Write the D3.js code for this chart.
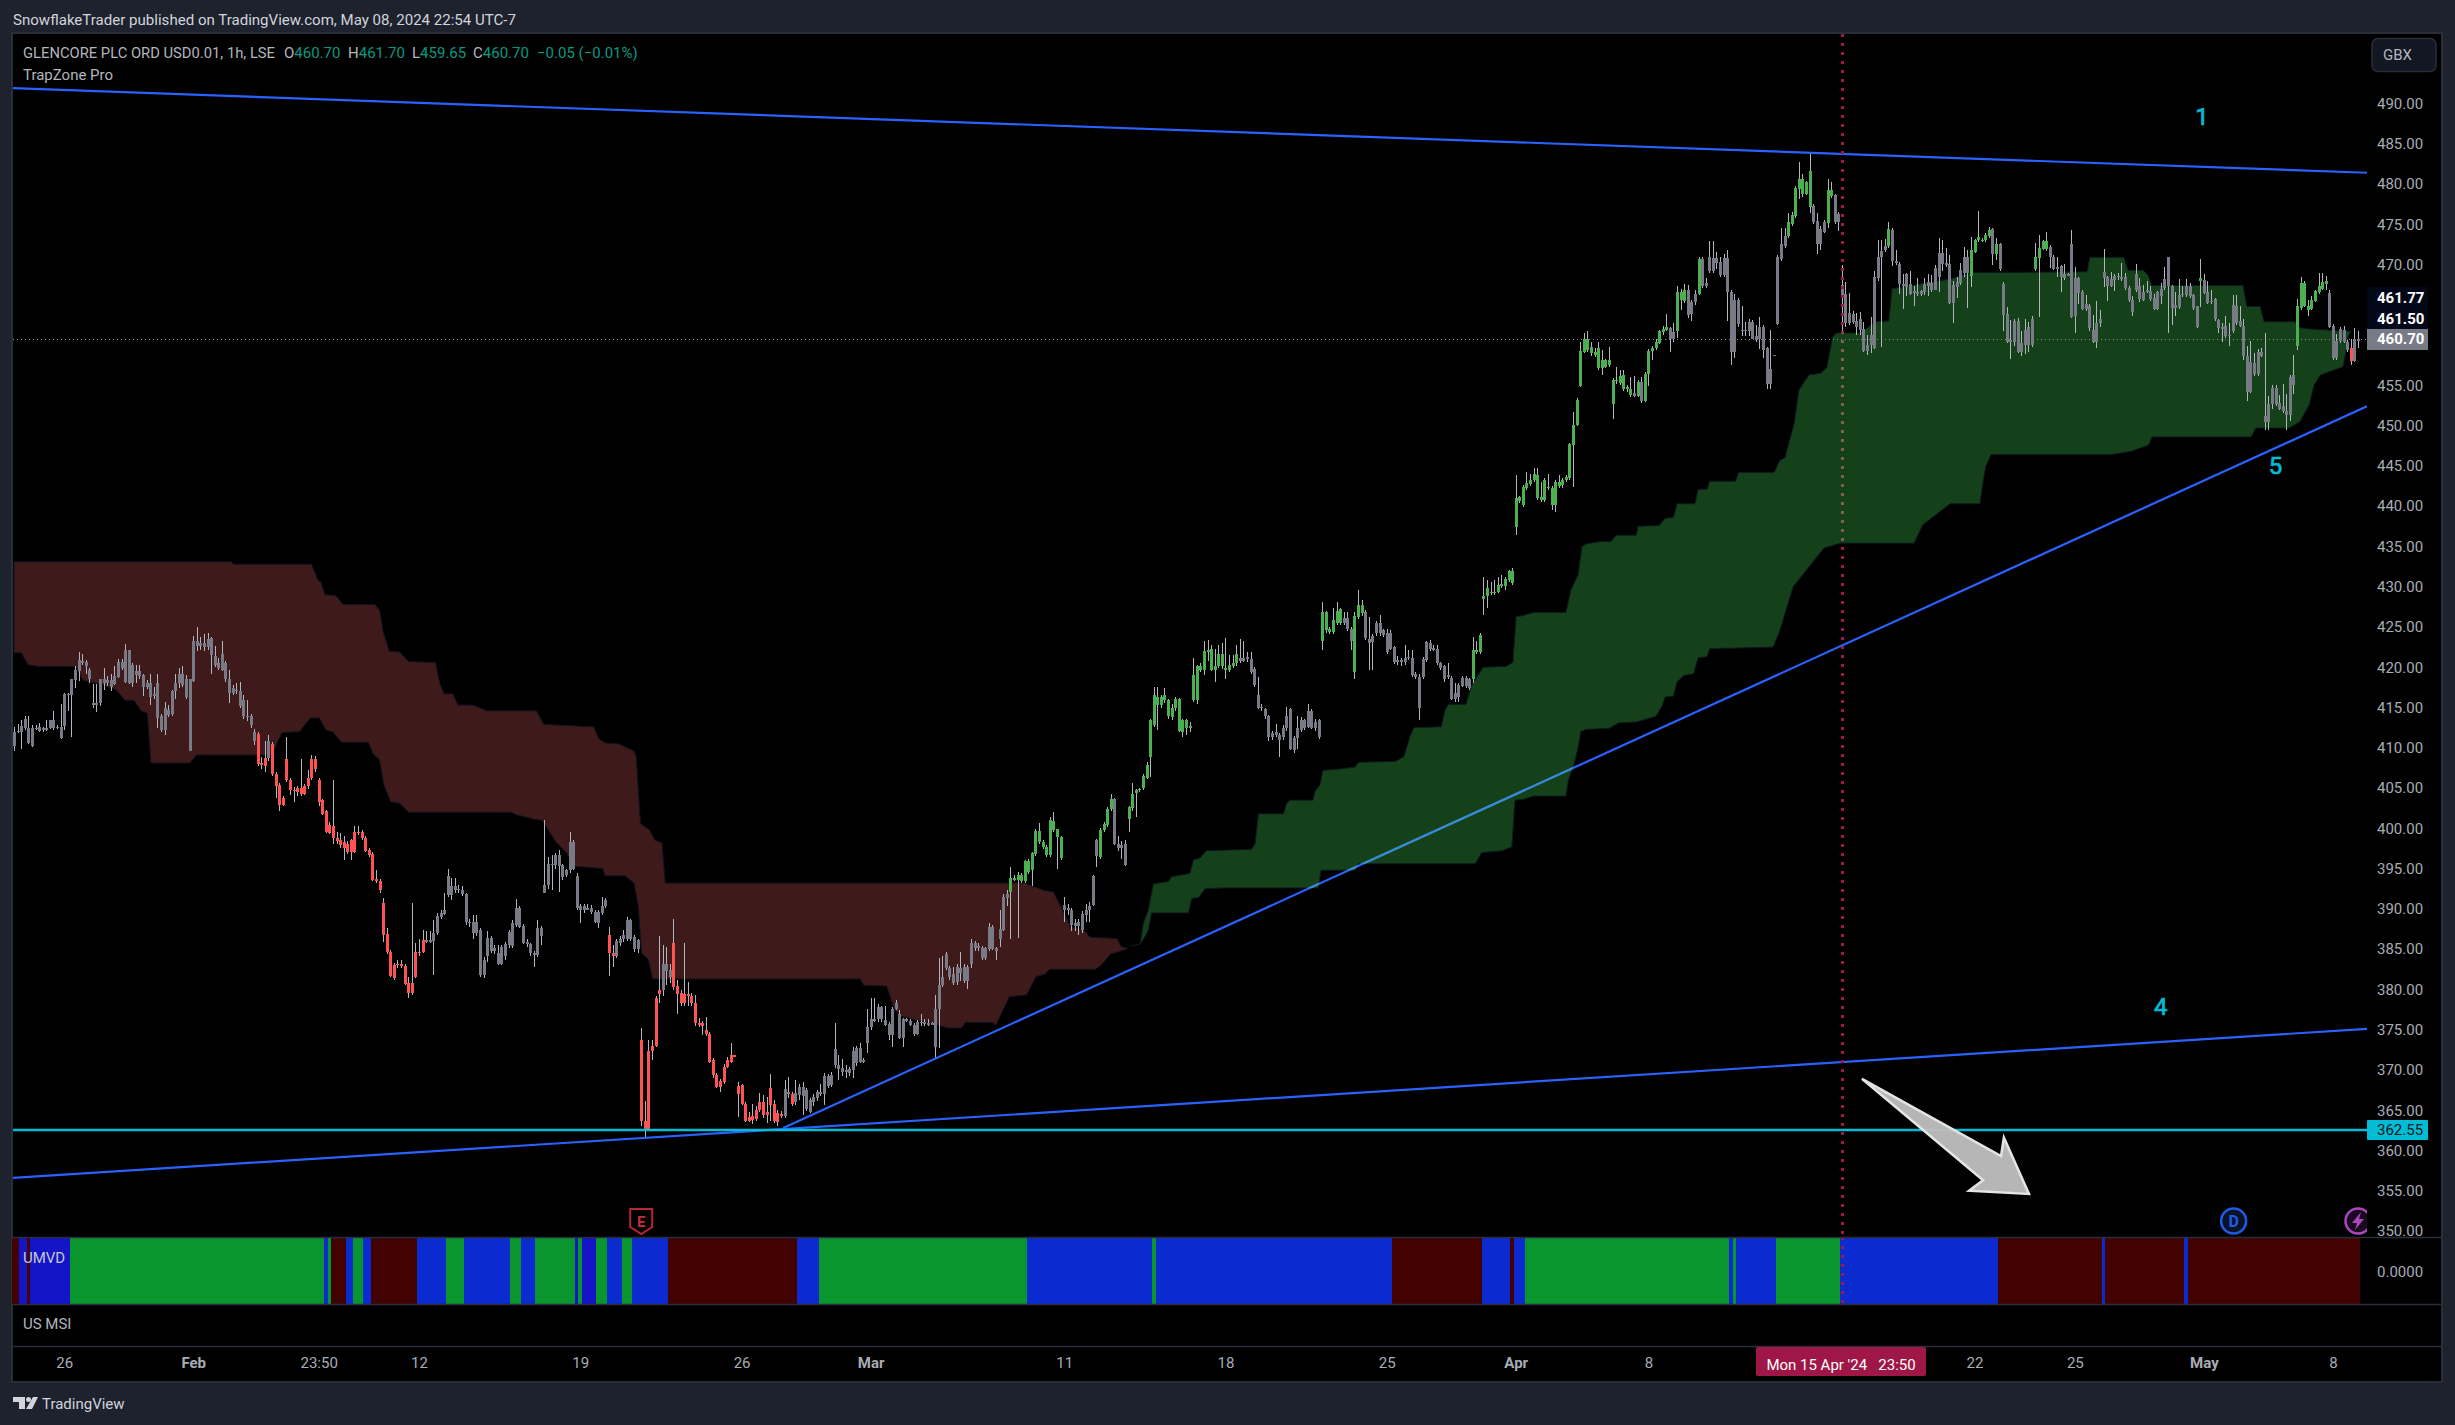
<!DOCTYPE html>
<html><head><meta charset="utf-8">
<script src="https://cdn.jsdelivr.net/npm/d3@7"></script>
<style>html,body{margin:0;padding:0;background:#1e222d;overflow:hidden}svg{display:block}text{font-family:Roboto,sans-serif}</style>
</head><body><div id="chart"></div>
<script>
// Hourly candles, each row [open, high, low, close]
const barsA = [
[410.2,412.6,409.6,412.0],[411.9,413.0,411.8,412.1],[411.9,413.5,409.8,412.7],[412.4,413.9,412.2,413.6],[410.6,413.9,410.5,412.4],[410.2,412.8,410.1,412.5],[412.4,412.8,412.2,412.5],[412.1,413.1,412.0,412.6],[412.2,412.6,412.0,412.4],[412.2,413.4,412.1,412.5],
[412.4,413.5,412.3,413.4],[412.4,414.6,412.2,413.4],[412.5,412.8,412.3,412.6],[411.2,415.4,411.1,412.6],[412.7,416.8,412.2,416.7],[416.6,416.8,414.6,416.7],[416.6,418.5,411.4,418.5],[418.4,420.1,417.4,419.7],[419.5,421.9,418.3,420.9],[420.5,421.6,420.3,420.8],
[420.1,420.9,419.2,420.6],[418.5,419.9,418.0,419.7],[415.3,417.9,415.0,415.5],[415.3,417.9,414.4,415.6],[415.5,418.6,415.2,418.6],[418.0,419.9,417.2,418.5],[418.1,418.9,417.7,418.4],[417.6,419.2,417.0,418.4],[417.9,420.1,417.8,418.9],[418.8,421.0,418.7,420.6],
[419.9,421.0,419.6,420.6],[418.2,422.9,418.0,422.1],[418.0,422.1,417.9,422.1],[418.0,420.5,417.5,420.3],[419.0,420.3,418.0,419.5],[418.9,420.3,418.5,419.5],[417.6,419.2,416.4,419.0],[417.6,418.4,417.3,418.0],[416.3,419.1,415.3,418.0],[416.4,417.5,416.0,416.7],
[413.7,419.2,412.4,418.1],[412.2,414.2,412.0,413.9],[412.2,415.7,411.6,414.9],[414.1,415.3,413.8,414.7],[414.2,417.2,414.0,417.0],[417.1,419.2,416.1,418.0],[418.0,419.9,417.4,419.2],[417.8,420.1,417.5,419.2],[416.3,419.0,416.0,418.5],[409.6,418.6,409.6,418.5],
[418.3,423.9,418.2,423.3],[422.6,425.0,422.0,423.3],[422.6,423.8,422.2,423.0],[422.5,424.1,422.0,423.0],[422.5,424.2,422.2,423.5],[421.5,423.8,419.1,423.6],[420.3,422.6,420.0,421.4],[419.9,421.1,419.6,420.5],[419.7,423.2,419.5,421.7],[418.5,420.8,418.2,420.5],
[416.8,419.6,415.6,418.5],[416.8,417.8,416.5,417.4],[417.0,418.0,416.7,417.2],[415.2,418.2,415.0,417.1],[413.9,416.6,413.6,415.9],[413.8,415.9,413.3,414.0],[412.8,414.2,412.4,413.9],[410.8,412.3,410.3,412.0],[411.7,412.0,407.7,408.0],[408.1,408.8,407.4,408.0],
[408.7,410.8,407.0,407.7],[408.7,411.6,408.4,410.8],[410.5,410.7,406.5,406.7],[406.8,407.0,403.8,405.3],[405.4,405.6,402.2,402.9],[403.8,404.0,402.8,402.9],[408.6,411.4,405.8,406.0],[406.0,406.2,404.1,404.8],[404.8,405.1,403.3,404.7],[405.0,405.2,404.0,404.5],
[405.0,408.6,404.0,404.3],[405.3,405.5,404.1,404.3],[406.2,407.2,404.9,405.2],[408.6,409.1,406.0,406.2],[408.6,409.0,407.0,407.4],[406.0,406.2,402.8,403.3],[403.5,403.7,401.6,401.8],[402.1,402.3,399.4,399.5],[400.4,400.8,399.3,399.4],[400.3,406.0,398.1,398.8],
[398.8,399.6,398.0,398.4],[398.5,399.4,397.6,397.9],[398.3,399.0,396.1,397.5],[398.0,398.4,396.8,397.1],[398.5,398.7,396.1,397.0],[399.6,400.3,396.9,397.0],[399.6,400.3,399.2,399.5],[399.5,399.8,398.6,398.8],[398.8,399.0,397.0,397.2],[397.3,397.6,396.5,396.7]];
const barsB = [
[396.8,397.0,393.5,393.6],[393.7,394.8,393.2,393.4],[393.5,393.7,392.0,392.3],[390.7,391.3,385.9,386.8],[386.9,387.6,384.4,384.6],[384.7,384.9,381.5,381.7],[383.0,383.3,381.2,381.4],[383.2,383.7,382.7,383.0],[383.2,383.7,382.6,382.9],[382.9,383.1,380.5,380.7],
[380.8,381.5,378.9,379.5],[380.8,390.7,379.3,379.6],[384.6,385.8,381.4,381.6],[384.7,386.2,384.2,384.5],[386.1,387.4,384.5,384.7],[386.0,387.3,385.7,386.1],[386.0,387.2,385.7,386.1],[386.0,388.6,381.8,387.0],[387.0,389.5,386.8,389.1],[389.0,389.8,388.8,389.5],
[389.4,392.0,389.2,389.9],[391.7,395.0,391.5,394.1],[391.7,393.8,391.1,392.9],[392.3,393.8,392.0,392.9],[392.3,393.0,392.0,392.5],[391.9,392.8,391.6,392.4],[388.4,392.0,388.0,391.9],[388.2,388.8,387.8,388.4],[387.0,389.2,386.3,388.4],[387.0,389.2,386.6,388.4],
[381.8,387.6,381.6,387.4],[381.8,384.0,381.4,383.7],[384.1,387.2,383.4,386.4],[384.8,386.6,384.5,386.4],[384.8,385.5,384.4,385.1],[383.2,385.5,383.0,384.5],[383.2,385.5,383.0,385.3],[384.1,385.9,383.7,385.6],[385.5,387.4,385.2,387.1],[385.4,388.6,385.2,388.2],
[388.0,391.2,387.8,390.1],[387.8,390.3,387.6,390.1],[385.8,388.1,385.6,387.9],[385.6,386.3,385.3,385.9],[384.5,385.8,384.2,385.6],[384.3,384.8,382.8,384.5],[384.3,388.6,384.0,387.6],[386.6,387.9,385.5,387.6],[392.0,401.0,392.0,393.0],[393.0,396.5,392.5,395.6],
[395.5,396.7,392.3,395.6],[395.4,396.9,395.0,396.7],[395.3,397.3,392.1,396.7],[393.9,395.6,393.6,395.4],[394.2,395.0,394.0,394.8],[394.8,399.5,394.5,398.3],[395.0,398.5,394.8,398.3],[390.1,394.4,389.9,394.1],[389.9,390.6,388.3,390.4],[389.9,390.6,389.5,390.4],
[390.0,390.6,389.8,390.1],[389.6,390.5,389.3,390.1],[388.4,389.8,388.2,389.6],[388.3,389.8,387.6,389.6],[389.5,391.5,389.2,390.4],[390.4,391.4,390.1,391.1],[386.8,387.8,381.7,384.5],[384.5,385.5,382.8,384.1],[384.2,386.2,383.9,386.0],[385.7,386.6,385.4,386.3],
[386.2,387.4,385.9,386.8],[386.2,389.0,386.0,388.6],[386.2,388.8,386.0,388.6],[385.0,386.8,384.6,386.5],[385.0,386.3,384.5,386.1],[373.7,375.2,363.0,363.6],[363.7,366.2,361.4,362.7],[372.3,373.7,362.4,362.7],[373.0,373.7,371.2,372.3],[378.9,379.2,372.8,373.0],
[379.9,386.6,378.3,379.4],[379.9,385.5,379.2,383.2],[382.3,385.3,380.5,383.2],[381.6,383.2,380.8,382.4],[385.7,388.8,379.9,380.3],[380.4,381.2,377.0,379.4],[379.5,379.9,378.0,378.3],[379.4,385.7,378.0,378.3],[379.4,380.9,377.9,379.2],[379.2,379.5,378.0,378.3],
[378.3,379.3,375.5,375.8],[375.8,376.5,375.3,375.6],[375.8,376.1,374.3,375.5],[375.0,376.6,374.2,374.5],[374.5,374.7,370.8,371.0],[371.2,371.5,369.0,369.4],[369.4,369.6,367.7,367.9],[368.6,368.9,367.3,367.9],[370.4,370.7,368.3,368.5],[371.2,371.6,370.2,370.4]];
const barsC = [
[371.8,373.4,370.8,371.0],[371.8,371.9,371.6,371.7],[368.0,368.5,364.2,367.0],[368.1,368.3,365.6,365.8],[365.8,366.0,363.5,363.7],[364.2,364.8,363.5,363.7],[364.3,365.8,363.3,363.8],[365.0,365.5,363.6,363.9],[366.0,367.1,364.8,365.0],[366.0,366.9,364.0,364.4],
[364.8,366.7,363.4,364.4],[367.7,369.5,363.6,365.6],[365.8,366.3,363.4,363.6],[364.6,365.0,363.0,363.5],[364.5,364.9,364.0,364.3],[364.3,368.7,364.0,367.6],[367.0,369.1,366.5,367.3],[367.0,367.2,365.5,365.8],[366.0,368.7,365.7,367.1],[366.9,368.3,366.3,367.9],
[366.8,368.5,364.4,367.9],[365.1,367.7,364.9,367.5],[364.8,366.5,364.7,366.3],[366.0,367.0,365.5,366.7],[366.5,367.5,366.1,367.2],[367.0,368.3,366.8,367.3],[367.0,369.6,365.6,369.2],[368.0,369.5,367.7,369.2],[368.1,369.7,367.9,369.4],[370.6,375.8,370.3,372.6],
[370.1,371.8,368.8,370.6],[369.7,371.4,369.3,370.3],[369.7,370.6,369.0,370.0],[369.6,370.4,369.3,370.1],[370.0,372.9,369.0,372.3],[370.8,373.0,370.5,372.7],[371.0,373.4,370.8,372.7],[371.1,371.5,370.9,371.2],[373.4,377.6,372.1,375.3],[375.3,378.9,375.0,376.3],
[376.1,378.9,375.9,376.3],[376.3,378.2,376.0,377.8],[376.3,378.0,376.0,377.8],[375.6,377.9,375.4,376.2],[374.3,375.9,373.7,375.7],[374.3,377.8,372.9,377.6],[377.6,378.7,377.4,378.3],[374.0,377.4,373.9,376.9],[374.0,376.5,372.8,376.3],[376.1,376.4,375.9,376.3],
[375.6,376.3,375.4,376.1],[374.5,375.8,374.2,375.6],[374.5,376.2,374.3,376.0],[375.8,377.0,375.4,376.0],[375.7,376.3,375.4,375.9],[375.7,376.3,375.4,375.8],[375.7,375.9,375.6,375.8],[372.8,379.3,371.3,377.6],[377.6,383.9,372.7,380.6],[380.5,384.2,380.3,381.6],
[382.7,384.7,382.4,384.4],[381.6,382.9,381.2,382.6],[380.8,382.8,380.5,381.9],[380.9,383.2,380.6,382.8],[382.0,384.7,381.0,382.7],[381.1,383.2,380.8,382.8],[381.1,383.0,380.1,382.8],[383.2,386.3,382.6,385.8],[385.2,386.0,384.8,385.8],[385.1,385.7,384.8,385.4],
[383.9,385.4,383.6,385.2],[383.9,385.3,383.6,385.1],[385.0,388.2,384.8,387.8],[385.0,388.0,384.9,387.8],[384.8,385.3,383.7,385.1],[386.2,389.9,385.3,387.5],[387.4,391.8,387.2,391.5],[391.3,392.3,390.4,391.9],[392.1,395.2,386.3,393.8],[393.6,394.2,393.4,393.8],
[393.6,394.6,386.4,394.2],[393.4,394.4,393.2,394.2],[393.4,396.1,393.2,395.9],[394.6,396.2,394.3,395.9],[394.8,397.1,392.8,396.9],[396.8,399.9,396.6,399.7],[398.3,400.6,398.1,399.7],[397.7,398.5,397.4,398.3],[396.7,397.9,396.5,397.7],[396.7,401.4,396.5,401.0],
[399.8,402.0,399.5,400.9],[398.9,399.9,395.0,399.9],[396.3,399.1,396.1,398.9],[389.9,391.5,388.4,390.5],[389.9,390.6,389.2,390.1],[388.0,390.1,387.2,389.9],[387.9,388.8,387.2,388.3],[387.9,388.7,386.8,388.4],[387.4,389.7,387.0,389.4],[389.2,390.6,388.4,389.9]];
const barsD = [
[389.9,390.9,388.4,390.3],[390.5,394.2,390.3,394.1],[396.6,398.7,395.2,398.5],[396.4,400.0,396.2,399.8],[399.8,400.8,399.5,400.5],[400.4,402.6,400.2,402.4],[402.4,404.3,402.1,403.7],[398.1,403.8,397.9,403.6],[397.5,399.0,397.2,398.0],[397.5,398.4,396.2,397.9],
[395.5,398.6,395.3,398.0],[401.2,402.8,399.6,402.6],[402.5,405.6,402.2,404.3],[404.4,404.9,401.4,404.8],[404.7,405.0,404.5,404.9],[405.0,406.7,404.8,406.5],[406.3,408.2,406.1,407.9],[408.8,413.6,406.4,413.4],[412.8,417.6,412.6,416.5],[415.3,417.6,412.2,416.3],
[415.3,416.6,415.0,416.3],[415.9,417.4,415.6,416.5],[413.9,416.1,413.6,415.9],[413.8,415.4,413.5,414.9],[414.9,416.3,414.6,416.0],[412.1,416.2,411.9,416.0],[412.0,413.6,411.4,413.4],[412.4,413.6,411.6,413.4],[412.6,413.2,412.0,412.7],[415.9,421.1,415.7,419.0],
[415.9,420.3,415.4,420.1],[419.7,420.5,419.4,420.2],[419.7,423.2,419.0,422.0],[421.9,423.4,420.8,422.1],[419.7,422.8,419.5,422.3],[419.7,422.3,418.2,420.1],[420.1,422.8,419.9,421.6],[420.1,423.0,419.8,421.6],[419.6,423.6,418.6,419.9],[419.7,421.5,419.4,420.3],
[420.1,421.5,419.9,420.5],[420.5,422.8,420.2,421.6],[420.8,423.5,420.5,421.1],[420.8,423.3,420.6,421.1],[421.0,421.9,420.7,421.3],[419.4,421.9,419.2,421.0],[417.8,420.0,417.6,419.8],[415.0,418.8,414.8,416.5],[415.0,415.4,414.6,415.1],[413.9,415.0,413.6,414.8],
[411.3,414.1,410.9,413.9],[411.3,412.1,411.0,411.8],[411.6,413.0,411.3,411.9],[411.0,411.8,408.9,411.6],[411.3,412.8,411.0,412.5],[412.4,415.1,412.1,413.9],[409.9,415.0,409.7,414.8],[409.7,411.5,409.4,411.2],[411.2,413.9,409.9,412.4],[412.2,413.8,412.0,413.4],
[412.4,413.6,412.2,413.5],[412.6,415.4,412.4,414.6],[412.5,414.8,412.3,414.6],[412.4,413.6,412.1,413.2],[411.4,413.6,411.1,413.4],[423.3,428.1,422.1,426.9],[424.6,427.0,424.3,426.8],[424.4,425.0,424.1,424.7],[424.4,427.3,424.1,425.9],[425.5,428.1,425.2,427.0],
[425.5,427.4,425.2,427.2],[425.5,426.9,425.2,426.1],[424.8,426.9,424.5,426.1],[423.2,425.0,422.1,424.7],[419.4,426.9,418.5,426.4],[426.3,429.6,426.0,427.7],[426.7,428.3,426.4,427.7],[423.6,427.1,423.4,426.9],[423.0,426.3,419.6,423.5],[423.1,424.1,419.6,423.9],
[424.2,425.7,423.9,425.5],[424.2,426.5,423.9,425.5],[424.0,424.8,423.7,424.6],[421.9,424.8,421.7,424.2],[422.3,424.6,422.1,424.2],[420.7,422.7,420.4,422.5],[420.7,421.4,420.3,420.9],[420.6,421.1,420.2,420.9],[420.6,422.8,420.3,421.2],[421.1,422.1,420.9,421.3],
[419.0,422.1,418.8,421.2],[418.8,419.4,418.5,419.2],[414.9,419.2,413.4,418.8],[418.8,421.3,418.6,421.0],[420.9,423.3,420.7,423.1],[422.3,423.4,422.0,423.0],[422.2,422.8,422.0,422.4],[420.5,422.8,420.3,422.3],[419.9,420.7,419.7,420.5],[418.6,420.3,418.2,420.1]];
const barsE = [
[418.8,420.5,418.5,419.0],[416.1,418.9,415.9,418.7],[416.1,418.0,415.7,416.8],[416.3,418.0,415.7,417.8],[417.7,418.9,417.5,418.7],[417.7,418.9,417.4,418.7],[417.4,418.7,417.2,418.5],[418.5,423.8,418.0,422.1],[421.9,423.2,421.6,422.2],[421.9,424.2,421.7,424.0],
[428.5,431.2,426.5,428.8],[428.8,430.8,427.3,429.8],[429.2,430.6,429.0,429.4],[429.2,430.8,429.0,429.4],[429.4,431.2,429.2,430.2],[430.1,431.5,429.9,430.3],[430.1,431.2,429.6,430.9],[430.8,432.1,430.6,431.9],[430.4,432.3,430.2,431.9],[437.4,443.9,436.4,441.0],
[440.6,441.3,440.4,441.1],[440.1,442.6,439.9,442.4],[442.3,444.3,442.0,442.9],[442.8,444.0,442.5,443.3],[443.2,444.7,443.0,444.0],[441.0,444.8,440.8,443.9],[440.8,443.0,440.5,441.2],[440.8,443.5,440.5,443.3],[442.2,444.0,442.0,442.4],[440.1,442.5,439.5,442.2],
[440.1,443.2,439.3,443.0],[442.5,443.9,442.2,443.0],[442.6,443.5,442.3,443.3],[443.2,443.9,443.0,443.6],[443.5,447.9,443.3,447.7],[447.6,451.7,442.4,450.1],[450.1,453.4,449.9,453.2],[454.9,460.4,454.8,459.3],[459.2,461.5,459.0,460.7],[459.4,461.7,459.2,460.7],
[459.0,460.4,458.7,459.8],[458.8,459.6,458.5,459.2],[457.1,460.4,456.9,459.6],[457.1,459.4,456.3,458.1],[457.3,458.3,457.1,458.1],[457.5,459.8,457.3,458.2],[452.7,455.9,450.8,455.7],[455.5,457.3,455.2,455.7],[455.3,456.9,455.0,456.2],[454.6,456.9,454.3,456.3],
[454.5,455.0,454.2,454.8],[453.8,456.1,453.6,454.6],[453.7,456.2,453.5,454.1],[453.7,455.7,453.5,455.4],[453.0,456.0,452.8,455.4],[453.0,456.6,452.9,456.4],[456.4,459.5,454.9,459.3],[459.3,459.9,458.2,459.7],[459.6,460.8,459.4,460.4],[460.3,461.9,460.1,461.7],
[461.6,462.4,461.3,462.0],[461.9,463.9,461.7,462.2],[460.7,462.3,459.2,462.1],[460.8,462.7,460.4,461.6],[461.7,467.3,460.9,466.6],[465.6,467.0,464.3,466.6],[465.5,467.6,465.2,466.8],[463.7,467.5,463.4,466.8],[463.9,465.6,463.0,465.4],[465.3,466.8,465.0,466.4],
[466.4,470.9,466.2,470.7],[467.3,471.0,467.1,470.7],[467.3,468.3,467.1,467.7],[469.2,472.9,469.0,471.0],[469.2,472.9,468.9,470.8],[470.2,471.6,469.4,470.8],[468.7,471.0,468.5,470.3],[468.7,471.3,468.5,470.8],[466.6,471.8,463.0,470.8],[459.1,466.8,457.5,466.6],
[459.1,466.4,458.4,465.6],[462.6,465.8,462.3,465.6],[461.7,464.9,461.1,461.9],[461.7,462.9,461.1,461.9],[461.7,463.2,461.1,462.9],[460.8,463.1,460.7,462.9],[460.6,462.5,460.4,461.1],[460.7,463.5,459.5,462.3],[459.4,462.5,458.4,462.3],[455.2,459.8,454.6,459.6],
[455.2,461.9,454.6,457.0],[458.7,458.8,458.6,458.8],[462.6,471.2,462.5,471.0],[470.7,474.6,470.5,472.6],[472.3,474.6,472.0,473.5],[473.5,476.4,473.3,475.3],[475.0,476.5,474.8,476.2],[476.0,479.7,475.8,479.5],[479.4,482.7,478.1,480.6],[478.8,481.2,478.4,480.6]];
const barsF = [
[478.8,480.4,478.6,480.3],[477.2,483.8,476.4,481.6],[475.3,477.5,475.0,477.3],[472.6,476.4,471.3,475.4],[472.6,474.8,471.8,474.4],[474.1,475.5,473.9,475.3],[475.2,480.6,474.6,479.3],[478.5,480.2,478.3,479.3],[475.3,478.8,475.0,478.6],[475.3,476.5,474.2,476.3],
[466.0,470.0,461.7,467.5],[462.7,467.8,462.2,466.4],[462.7,466.5,462.5,464.0],[462.9,464.2,462.6,463.9],[462.2,464.0,461.3,463.0],[461.9,464.1,461.3,463.2],[459.3,462.9,459.1,462.0],[459.3,461.3,458.8,460.0],[460.0,463.5,459.0,461.3],[459.7,469.2,459.5,468.4],
[468.3,473.0,468.0,471.0],[470.9,473.1,459.8,471.7],[471.8,473.2,471.6,472.3],[472.3,475.3,472.1,474.4],[470.4,474.5,469.8,474.3],[470.2,471.8,470.0,470.4],[467.6,470.3,466.3,470.1],[467.4,468.8,464.5,467.6],[467.2,469.0,466.1,468.8],[466.3,469.2,466.2,467.6],
[466.5,467.4,464.8,466.7],[466.4,468.3,466.1,466.6],[466.4,466.9,466.1,466.7],[466.6,468.3,466.2,467.6],[467.4,468.8,466.1,467.8],[466.9,468.7,466.6,467.7],[466.9,469.9,466.8,469.6],[468.4,473.3,466.6,471.4],[470.1,473.0,469.2,471.4],[469.9,472.0,469.7,470.2],
[465.2,471.2,465.1,470.1],[465.2,468.0,462.8,467.5],[467.2,468.4,465.9,467.8],[467.7,470.2,467.5,469.3],[469.0,472.2,468.4,470.9],[469.0,471.8,464.6,470.9],[468.6,473.4,467.2,471.8],[471.6,473.2,471.4,473.0],[473.0,476.6,472.8,473.4],[473.0,473.3,472.8,473.1],
[473.0,473.9,472.8,473.7],[473.6,474.7,473.3,474.3],[471.3,474.6,469.9,474.4],[471.3,473.3,470.6,472.5],[469.4,472.7,469.2,472.5],[463.8,467.8,461.7,467.6],[460.4,464.7,460.2,463.9],[460.4,463.1,458.3,460.6],[460.4,463.2,459.9,463.0],[459.2,463.4,459.0,463.0],
[459.2,461.8,458.7,460.2],[460.0,463.2,458.9,461.9],[460.0,462.9,459.2,462.3],[460.0,463.6,459.8,463.2],[469.5,472.7,469.2,471.0],[470.8,473.7,463.5,472.0],[471.9,473.1,471.8,472.9],[471.9,474.1,471.7,472.9],[471.0,472.4,469.6,472.2],[469.5,471.2,469.3,471.0],
[469.5,470.9,468.4,469.7],[468.4,469.9,466.6,469.8],[468.3,470.1,468.1,468.8],[468.7,468.9,468.6,468.8],[463.5,474.3,463.4,472.6],[463.6,469.7,461.5,468.3],[466.5,468.5,465.1,468.3],[464.5,466.8,464.3,466.6],[464.5,466.2,464.2,465.1],[462.1,465.1,461.7,464.9],
[460.4,463.8,460.2,461.9],[460.4,465.5,459.6,462.8],[462.7,464.3,462.3,463.3],[468.3,471.9,467.2,469.1],[467.4,468.6,465.5,468.4],[467.3,469.1,467.2,468.2],[468.1,468.8,466.7,468.6],[468.4,469.0,468.1,468.6],[468.2,470.2,467.9,468.4],[467.1,469.0,466.8,468.4]];
const barsG = [
[465.6,467.4,465.3,467.1],[464.1,466.1,463.6,465.6],[466.9,470.1,466.6,468.8],[465.7,468.3,465.4,467.3],[465.6,467.5,465.5,466.6],[466.7,467.9,466.5,466.8],[465.7,467.3,465.5,466.7],[464.5,466.4,464.4,465.8],[464.5,466.7,464.3,466.6],[466.1,467.7,465.1,467.0],
[467.1,469.7,466.9,468.2],[467.3,471.0,461.5,470.9],[464.6,467.5,462.5,467.3],[464.6,466.6,463.6,465.0],[464.7,468.2,464.5,466.2],[466.2,467.3,466.0,466.4],[466.2,468.2,466.0,467.3],[466.1,467.7,465.9,467.3],[464.6,466.4,464.4,466.2],[462.3,464.9,462.1,464.8],
[467.9,470.7,464.7,468.3],[466.5,468.8,466.3,468.1],[465.2,467.9,465.1,466.6],[465.3,466.9,465.1,465.5],[463.2,465.9,463.0,465.7],[462.1,463.3,461.5,463.1],[462.1,462.7,460.4,462.2],[461.1,463.6,460.9,462.4],[461.1,462.7,459.9,461.3],[461.8,466.2,461.5,465.0],
[462.8,466.2,462.5,464.9],[462.4,464.8,462.2,463.0],[458.6,463.3,458.2,462.4],[454.2,459.9,453.1,458.6],[454.2,460.5,454.0,457.9],[456.4,459.0,456.2,457.8],[456.4,459.5,456.2,459.1],[458.7,459.7,458.5,459.2],[450.4,461.5,449.4,451.2],[450.4,453.7,449.5,452.7],
[452.7,455.0,452.1,454.7],[452.7,455.0,452.5,454.7],[452.1,453.8,451.9,452.8],[451.8,455.2,451.6,452.4],[451.3,453.9,449.4,451.8],[451.3,456.3,450.6,456.1],[455.0,458.8,453.9,456.3],[459.9,465.7,459.4,464.9],[464.6,468.4,464.4,467.7],[464.9,467.9,464.7,467.7],
[464.3,465.6,463.6,464.9],[464.5,466.1,464.3,465.6],[465.5,466.8,465.3,466.7],[466.6,468.9,466.4,467.3],[467.0,469.0,466.8,467.8],[467.6,468.6,466.8,468.0],[462.3,466.9,462.1,466.5],[458.4,462.6,458.2,462.4],[458.4,461.4,458.2,460.5],[460.5,462.3,460.3,462.0],
[460.4,462.4,460.2,461.9],[459.4,460.6,459.2,460.4],[459.7,460.8,457.5,458.0],[458.0,462.1,457.9,460.8],[460.7,461.7,459.65,460.7]];

// Candle colouring state: n neutral, d down trend, u up trend, in runs of bars
const trendStates = ("n d n d n d n d n d n d "+
 "n u n u n u n u n u n u n u n u n u "+
 "n u n u n u n u n u n u n u n u n u "+
 "n d n").split(" ");
const trendRuns = [68,3,1,43,51,2,7,6,3,31,2,1,60,15,10,4,4,31,23,6,3,3,30,45,1,1,1,7,2,3,3,1,24,7,4,2,15,1,22,6,1,1,10,4,42,1,26,9,6,1,2];

// UMVD study: state per bar, in runs
const umvdStates = "r B r B g b g r b g b r b g b g b g B g B g b g b r b g b g b r b r b g b g b g b r b r b r".split(" ");
const umvdRuns = [2,2,1,11,71,1,1,4,2,3,2,13,8,5,13,3,4,11,1,1,4,3,4,3,10,36,6,58,35,1,66,25,8,1,3,57,1,1,11,18,44,29,1,22,1,48];

// TrapZone cloud edges: bar position and price of each step
const redUpperIdx = [0,60.6,61.2,83,84.8,85.6,86.8,89.8,91.8,100.7,102,103,104.7,107.6,110.1,117.6,118.8,120,122.5,123.8,128.1,131.9,145.8,147.8,161.8,163,164.9,168.6,173,173.6,174.8,177.3,178.9,180.8,181.7,282,284.1,287.3,290,292.8,294.8,298.5,300.1,307.8,308.9,310.8];
const redUpperPx = [433.1,433.1,432.8,432.8,430.8,430.6,429,428.9,427.8,427.8,427.1,424.4,422,421.9,420.7,420.6,418,416.7,416.7,415.3,415.3,414.6,414.6,412.9,412.6,411.2,410.6,410.5,409.6,408.9,400.6,399.8,398.5,398.2,393.2,393.2,392.8,392.3,392.1,389.6,387.8,387.4,386.5,386.3,385.3,385.1];
const redLowerIdx = [0,2.1,3.9,7.3,17.3,19.2,24.8,28.5,31,33.5,35.4,37.2,38.2,49.1,50.9,72.1,73.4,74.8,79.6,82.7,85.2,87,88.9,91.4,98.9,100.1,102,103.2,105.1,107.6,110.1,138.7,140,145.6,147.4,151.2,154.3,156.2,164.3,164.9,170.5,173,174.2,175.1,177,178.2,236.1,237.1,243.5,245.7,247.8,257.4,260.6,264.4,265.4,272.9,274,277.7,282.5,285.2,287.8,288.9,301.7,303.3,306,309.7,310.8];
const redLowerPx = [421.8,421.8,420.3,420.1,420.1,418.4,417.8,417.2,415.9,415.9,414.6,414.3,408.1,408.1,409.1,409.1,410.6,411.9,412,413.7,413.7,412.2,412,410.7,410.7,409.3,408.5,405.4,403.3,403.1,402,402,401.7,401.1,401,398.3,396.9,395.3,395,394.1,394.1,393.2,390.3,384.5,383.7,381.3,381.3,380.5,380.4,377.4,376.6,375.6,375.2,375.2,375.9,375.9,375.6,379.1,379.3,381.6,381.9,382.5,382.5,383,384.4,384.9,385.1];
const greenUpperIdx = [311.4,314.2,315.1,316.5,317.9,322.1,323,328.1,329.1,330.9,332.6,345.3,346.3,347.2,354.2,355.1,356,362.4,363,364.4,365.2,368.6,374.2,375.1,385.3,387.8,389.5,390.6,398.2,399.3,400.3,405.1,406.7,409.9,416.3,418.2,419.1,421,423.8,433,434.4,436.4,437.5,438.6,442.5,445.6,447,452.6,453.1,459,460.7,463,464,469,469.9,472.4,473.1,480.3,481.2,491.1,492.7,494.1,496.7,498,500.8,504,505.8,507.4,508.4,515.3,519.3,523.1,524,525.1,540.2,546.3,578.4,579.2,588.7,589.8,594,595.4,596.5,621.9,623,626.7,627.8,636.4,637.3,640.6,652];
const greenUpperPx = [385.4,385.6,388.2,389.9,393.1,393.4,394,394.4,396.1,396.3,397.2,397.4,398.1,401.8,401.8,403.1,403.5,403.5,404.6,405.4,407.2,407.3,407.6,408.2,408.3,408.9,411.4,412.5,412.6,414.7,415.4,415.4,417.8,420,420.1,420.6,426.3,426.4,426.8,426.8,429.6,431.5,435,435.3,435.6,435.6,436.4,436.4,437.5,437.6,438.5,438.6,440.3,440.3,442.1,442.1,443.1,443.1,444.2,444.2,445.7,446,450.3,454.4,456.3,456.5,457.2,461,461.5,461.5,462.9,463,467,467.1,468.2,469,469.1,470.9,470.9,469.3,469.3,468.7,467.4,467.4,464.8,464.8,462.9,462.9,462.2,462,461.7];
const greenLowerIdx = [314.2,315.6,316.5,317.4,327.7,328.6,330.5,332.3,337.4,363.9,364.7,374.2,375.1,407.7,409.5,415.1,417.9,418.8,421.2,423.9,433,433.7,435.1,436,436.8,437.1,438.6,445,447.8,452.6,458.1,459.8,460.7,463,464,466,468.6,469.9,472.4,473.1,490.8,492.7,496.4,505,509.5,530.1,532.6,540.2,548.5,549.5,550.1,551.6,585,590.6,595.6,596.5,624.2,625.5,634.8,637.8,640.4,641.7,643.5,649.8,650.4,651.2,652];
const greenLowerPx = [385.6,386.6,387.4,389.5,389.5,391.3,391.4,392.5,392.6,392.6,394.8,394.8,395.6,395.6,397,397.2,397.7,403.5,403.6,404,404,406,407.7,409.3,411,412,412.3,412.4,413.1,413.2,413.9,415.2,416.3,416.4,418.2,419,419.2,421.2,421.3,422.3,422.5,424.6,430,434.8,435.4,435.4,437.7,440.3,440.3,443.3,444.9,446.4,446.4,446.8,447.6,448.6,448.6,449.7,449.7,450.5,452.6,455,456.3,457.3,458.6,461,461.7];

// Drawn trend lines: from bar / price to bar / price
const trendLineStartIdx = [-0.3,214.6,-0.3];
const trendLineStartPx = [491.9,362.8,356.6];
const trendLineEndIdx = [656.5,656.5,656.5];
const trendLineEndPx = [481.4,452.4,375.1];
const supportPrice = 362.55;
const lastPrice = 460.70;
const crosshairIdx = 510;

// Annotation arrow and numbers
const arrowIdx = [515.6,554.4,555.2,562.2,545.5,549.4];
const arrowPx = [368.9,359.3,361.6,354.6,355,356.3];
const noteLabels = ["1","5","4"];
const noteIdx = [610.5,631,599];
const notePx = [488.3,445.0,377.8];
const markerIdx = [175,619.3,654];

// Axes
const priceTicks = [350,355,360,365,370,375,380,385,390,395,400,405,410,415,420,425,430,435,440,445,450,455,470,475,480,485,490];
const timeTickIdx = [14,50,85,113,158,203,239,293,338,383,419,456,547,575,611,647];
const timeTickLabels = ["26","Feb","23:50","12","19","26","Mar","11","18","25","Apr","8","22","25","May","8"];
const monthLabels = ["Feb","Mar","Apr","May"];
const headerQuote = [["O","460.70"],["H","461.70"],["L","459.65"],["C","460.70"]];

const W=2455,H=1425;
const L=13,R=2441,T=34,B=1381,PR=2367,MB=1237,UB=1304,MS=1346;
const bars = [].concat(barsA,barsB,barsC,barsD,barsE,barsF,barsG);
const expand=(st,ru)=>st.flatMap((s,i)=>Array(ru[i]).fill(s));
const trend = expand(trendStates,trendRuns);
const umvd = expand(umvdStates,umvdRuns);
const x = d3.scaleLinear().domain([0,654]).range([14,2358]);
const y = d3.scaleLinear().domain([350,490]).range([1231,103.5]);
const candleColor = {n:"#787b86",d:"#ff5252",u:"#4caf50"};
const umvdColor = {r:"#430202",g:"#0a962f",b:"#0b2bd0",B:"#1414c8"};
const BAR=x(1)-x(0);

const svg = d3.select("#chart").append("svg").attr("width",W).attr("height",H).attr("viewBox",[0,0,W,H]);
svg.append("rect").attr("width",W).attr("height",H).attr("fill","#1e222d");
svg.append("rect").attr("x",L-1).attr("y",T-1).attr("width",R-L+2).attr("height",B-T+2).attr("fill","#000").attr("stroke","#2a2e39").attr("stroke-width",2);

const defs=svg.append("defs");
defs.append("clipPath").attr("id","mainClip").append("rect").attr("x",L).attr("y",T).attr("width",PR-L).attr("height",MB-T);
const toPts=(ix,px)=>ix.map((d,i)=>[x(d),y(px[i])]);
const poly=(ui,up,li,lp)=>d3.line()(toPts(ui,up).concat(toPts(li,lp).reverse()))+"Z";
const redPath=poly(redUpperIdx,redUpperPx,redLowerIdx,redLowerPx);
const greenPath=poly(greenUpperIdx,greenUpperPx,greenLowerIdx,greenLowerPx);
defs.append("clipPath").attr("id","greenClip").append("path").attr("d",greenPath);

const main=svg.append("g").attr("clip-path","url(#mainClip)");
main.append("path").attr("d",redPath).attr("fill","#3e1a1a").attr("stroke","#0f1420").attr("stroke-width",1);
main.append("path").attr("d",greenPath).attr("fill","#14401a").attr("stroke","#0c1a20").attr("stroke-width",1);

// last price dotted
main.append("line").attr("x1",L).attr("x2",PR).attr("y1",y(lastPrice)).attr("y2",y(lastPrice)).attr("stroke","#8a8d96").attr("stroke-width",1).attr("stroke-dasharray","1 3");

// crosshair
const chX=Math.round(x(crosshairIdx))+0.5;
svg.append("line").attr("x1",chX).attr("x2",chX).attr("y1",T).attr("y2",UB).attr("stroke","#a5174b").attr("stroke-width",3).attr("stroke-dasharray","3 6");
svg.append("line").attr("clip-path","url(#greenClip)").attr("x1",chX).attr("x2",chX).attr("y1",T).attr("y2",UB).attr("stroke","#8a5c4a").attr("stroke-width",3).attr("stroke-dasharray","3 6");

// candles
const candles=main.append("g").attr("shape-rendering","crispEdges");
candles.selectAll("line").data(bars).join("line")
 .attr("x1",(d,i)=>Math.round(x(i))+0.5).attr("x2",(d,i)=>Math.round(x(i))+0.5)
 .attr("y1",d=>y(d[1])).attr("y2",d=>y(d[2])).attr("stroke","#b2b5be").attr("stroke-width",1);
candles.selectAll("rect").data(bars).join("rect")
 .attr("x",(d,i)=>Math.round(x(i))-1).attr("width",3)
 .attr("y",d=>y(Math.max(d[0],d[3])))
 .attr("height",d=>Math.max(1.5,Math.abs(y(d[0])-y(d[3]))))
 .attr("fill",(d,i)=>candleColor[trend[i]]);

// trend lines
trendLineStartIdx.forEach((s,i)=>{
  const a=[x(s),y(trendLineStartPx[i])],b=[x(trendLineEndIdx[i]),y(trendLineEndPx[i])];
  main.append("line").attr("x1",a[0]).attr("y1",a[1]).attr("x2",b[0]).attr("y2",b[1]).attr("stroke","#2962ff").attr("stroke-width",2.2);
  main.append("g").attr("clip-path","url(#greenClip)").append("line").attr("x1",a[0]).attr("y1",a[1]).attr("x2",b[0]).attr("y2",b[1]).attr("stroke","#3a8cc8").attr("stroke-width",2.2);
});
main.append("line").attr("x1",L).attr("x2",PR).attr("y1",y(supportPrice)).attr("y2",y(supportPrice)).attr("stroke","#00bcd4").attr("stroke-width",2.6);

// arrow annotation
main.append("path").attr("d",d3.line()(toPts(arrowIdx,arrowPx))+"Z").attr("fill","#bdbdbd").attr("fill-opacity",0.96).attr("stroke","#e4e4e4").attr("stroke-width",2.5).attr("stroke-linejoin","miter");

// numbers
main.selectAll("text.note").data(noteLabels).join("text").attr("class","note")
 .attr("x",(d,i)=>x(noteIdx[i])).attr("y",(d,i)=>y(notePx[i])).attr("text-anchor","middle").attr("dominant-baseline","central")
 .attr("fill","#00bcd4").attr("stroke","#00bcd4").attr("stroke-width",0.7).attr("font-size",24).attr("font-family","'Liberation Sans',sans-serif").text(d=>d);

// event markers
const evY=1221;
const eG=main.append("g").attr("transform",`translate(${x(markerIdx[0])},${evY})`);
eG.append("path").attr("d","M-11,-12H11V6L0,13L-11,6Z").attr("fill","#000").attr("stroke","#b22833").attr("stroke-width",2);
eG.append("text").attr("text-anchor","middle").attr("y",6).attr("fill","#c62e3a").attr("font-size",15).attr("font-weight",700).text("E");
const dG=main.append("g").attr("transform",`translate(${x(markerIdx[1])},${evY})`);
dG.append("circle").attr("r",12.5).attr("fill","#0a1226").attr("stroke","#1e5be6").attr("stroke-width",2.5);
dG.append("text").attr("text-anchor","middle").attr("y",6).attr("fill","#1e5be6").attr("font-size",16).attr("font-weight",700).text("D");
const sG=main.append("g").attr("transform",`translate(${x(markerIdx[2])},${evY})`);
sG.append("circle").attr("r",12.5).attr("fill","#1a0a20").attr("stroke","#ab47bc").attr("stroke-width",2.5);
sG.append("path").attr("d","M3,-9L-6,2H-1L-3,9L6,-2H1Z").attr("fill","#ab47bc");

// UMVD pane
svg.append("g").attr("shape-rendering","crispEdges").selectAll("rect").data(umvd).join("rect")
 .attr("x",(d,i)=>x(i)-BAR/2).attr("width",BAR+0.4).attr("y",MB+1).attr("height",UB-MB-1)
 .attr("fill",d=>umvdColor[d]);
svg.append("line").attr("x1",chX).attr("x2",chX).attr("y1",MB).attr("y2",UB).attr("stroke","#a5174b").attr("stroke-width",3).attr("stroke-dasharray","3 6");

// separators
[MB,UB,MS].forEach(v=>svg.append("line").attr("x1",L).attr("x2",R).attr("y1",v+0.5).attr("y2",v+0.5).attr("stroke","#2a2e39").attr("stroke-width",1.5));

const labelFill="#a9acb5";
// price axis
const yAxis=svg.append("g").attr("transform",`translate(${PR},0)`).call(d3.axisRight(y).tickValues(priceTicks).tickFormat(d3.format(".2f")).tickSize(0).tickPadding(10));
yAxis.select(".domain").remove();
yAxis.selectAll("text").attr("fill",labelFill).attr("font-size",15).attr("font-family","Roboto,sans-serif");

// stacked price tags
svg.append("rect").attr("x",PR).attr("y",287).attr("width",61).attr("height",42).attr("fill","#020817");
const tagX=PR+10;
svg.append("text").attr("x",tagX).attr("y",298).attr("dominant-baseline","central").attr("fill","#fff").attr("font-size",15).attr("font-weight",700).text("461.77");
svg.append("text").attr("x",tagX).attr("y",319).attr("dominant-baseline","central").attr("fill","#fff").attr("font-size",15).attr("font-weight",700).text("461.50");
svg.append("rect").attr("x",PR).attr("y",y(lastPrice)-10.5).attr("width",61).attr("height",21).attr("fill","#787b86");
svg.append("text").attr("x",tagX).attr("y",y(lastPrice)).attr("dominant-baseline","central").attr("fill","#fff").attr("font-size",15).attr("font-weight",700).text(lastPrice.toFixed(2));
svg.append("rect").attr("x",PR).attr("y",y(supportPrice)-10).attr("width",61).attr("height",20).attr("rx",1).attr("fill","#00bcd4");
svg.append("text").attr("x",tagX).attr("y",y(supportPrice)).attr("dominant-baseline","central").attr("fill","#131722").attr("font-size",15).text(supportPrice.toFixed(2));
svg.append("text").attr("x",tagX).attr("y",1272).attr("dominant-baseline","central").attr("fill",labelFill).attr("font-size",15).text("0.0000");

// GBX button
svg.append("rect").attr("x",2372).attr("y",38.5).attr("width",64).attr("height",33).attr("rx",6).attr("fill","#131722").attr("stroke","#2a2e39").attr("stroke-width",1.5);
svg.append("text").attr("x",2383).attr("y",55).attr("dominant-baseline","central").attr("fill","#b2b5be").attr("font-size",15).text("GBX");

// time axis
const xAxis=svg.append("g").attr("transform",`translate(0,${MS})`).call(d3.axisBottom(x).tickValues(timeTickIdx).tickFormat((d,i)=>timeTickLabels[i]).tickSize(0).tickPadding(11));
xAxis.select(".domain").remove();
xAxis.selectAll("text").attr("fill",labelFill).attr("font-size",15).attr("font-family","Roboto,sans-serif")
 .attr("font-weight",(d,i)=>monthLabels.includes(timeTickLabels[i])?700:400);
svg.append("rect").attr("x",1756).attr("y",MS+1).attr("width",170).attr("height",29).attr("rx",2).attr("fill","#9f1746");
svg.append("text").attr("x",1841).attr("y",1365).attr("text-anchor","middle").attr("dominant-baseline","central").attr("fill","#fff").attr("font-size",15).attr("xml:space","preserve").text("Mon 15 Apr '24   23:50");

// header text
const sfill="#d1d4dc";
svg.append("text").attr("x",13).attr("y",20).attr("dominant-baseline","central").attr("fill",sfill).attr("font-size",15).attr("textLength",503).attr("lengthAdjust","spacingAndGlyphs").text("SnowflakeTrader published on TradingView.com, May 08, 2024 22:54 UTC-7");
svg.append("text").attr("x",23).attr("y",53).attr("dominant-baseline","central").attr("fill","#b2b5be").attr("font-size",15).attr("textLength",252).attr("lengthAdjust","spacingAndGlyphs").text("GLENCORE PLC ORD USD0.01, 1h, LSE");
const qx=[284,348,412,473];
headerQuote.forEach((q,i)=>{
  const t=svg.append("text").attr("x",qx[i]).attr("y",53).attr("dominant-baseline","central").attr("font-size",15);
  t.append("tspan").attr("fill","#b2b5be").text(q[0]);
  t.append("tspan").attr("fill","#089981").text(q[1]);
});
svg.append("text").attr("x",537).attr("y",53).attr("dominant-baseline","central").attr("fill","#089981").attr("font-size",15).text("−0.05 (−0.01%)");
svg.append("text").attr("x",23).attr("y",75).attr("dominant-baseline","central").attr("fill","#b2b5be").attr("font-size",15).text("TrapZone Pro");
svg.append("text").attr("x",23).attr("y",1258).attr("dominant-baseline","central").attr("fill","#c5c8d0").attr("font-size",15).text("UMVD");
svg.append("text").attr("x",23).attr("y",1324).attr("dominant-baseline","central").attr("fill","#b2b5be").attr("font-size",15).text("US MSI");

// footer
svg.append("path").attr("d","M13,1397H25V1409H19V1402H13ZM33,1397H38L32,1409H26Z").attr("fill",sfill);
svg.append("circle").attr("cx",28.5).attr("cy",1399.5).attr("r",2.5).attr("fill",sfill);
svg.append("text").attr("x",42).attr("y",1404).attr("dominant-baseline","central").attr("fill",sfill).attr("font-size",15).text("TradingView");
</script></body></html>
